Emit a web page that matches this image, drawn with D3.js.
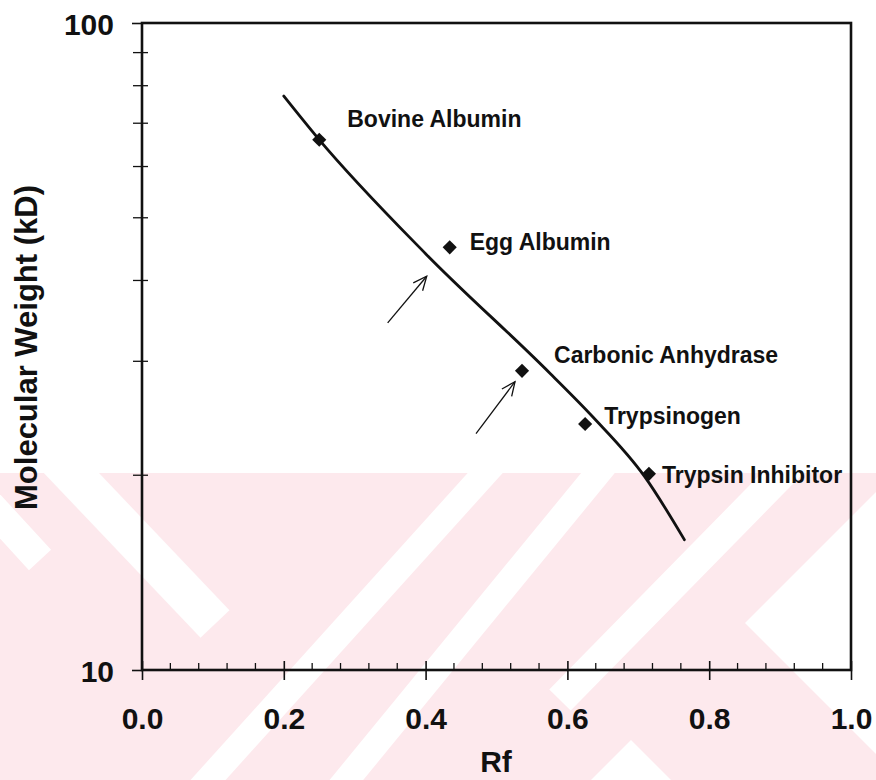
<!DOCTYPE html>
<html>
<head>
<meta charset="utf-8">
<script src="https://cdn.jsdelivr.net/npm/d3@7"></script>
<style>
  body { margin: 0; background: #ffffff; }
  svg { display: block; }
  text { font-family: "Liberation Sans", Arial, sans-serif; font-weight: bold; fill: #111; }
</style>
</head>
<body>
<svg id="chart" width="876" height="780"></svg>
<script>
// Marker proteins: relative mobility (Rf) and molecular weight (kD)
const proteins = ["Bovine Albumin", "Egg Albumin", "Carbonic Anhydrase", "Trypsinogen", "Trypsin Inhibitor"];
const rfValues = [0.25, 0.434, 0.536, 0.625, 0.715];
const mwValues = [66, 45, 29, 24, 20.1];

// Calibration curve through the markers
const curveRf = [0.20, 0.248, 0.400, 0.576, 0.636, 0.709, 0.765];
const curveMw = [77.1, 66.4, 44.0, 28.7, 24.6, 19.9, 15.9];

// Arrows marking the unknown bands
const arrowTailRf = [0.3465, 0.4711];
const arrowTailMw = [34.4, 23.2];
const arrowTipRf = [0.4016, 0.5261];
const arrowTipMw = [40.6, 27.9];

// Axis ticks
const xTicks = [0.0, 0.2, 0.4, 0.6, 0.8, 1.0];
const xMinorTicks = d3.range(0.04, 1.0, 0.04).filter(v => Math.abs(v / 0.2 - Math.round(v / 0.2)) > 1e-6);
const yTicks = [10, 100];
const yMinorTicks = [20, 30, 40, 50, 60, 70, 80, 90];

// Label placement relative to each marker (pixels)
const labelDx = [28, 20, 32, 19, 13];
const labelDy = [-13, 3, -8, 0, 9];

const svg = d3.select("#chart");
const W = 876, H = 780;
const plotLeft = 142, plotRight = 851, plotTop = 23, plotBottom = 670;

const x = d3.scaleLinear().domain([0, 1]).range([plotLeft, plotRight]);
const y = d3.scaleLog().domain([10, 100]).range([plotBottom, plotTop]);

// Background watermark band (light pink with white diagonal cut-outs)
const wmTop = 473;
const wm = svg.append("g").attr("class", "watermark");
const defs = svg.append("defs");
defs.append("clipPath").attr("id", "wmclip")
  .append("rect").attr("x", 0).attr("y", wmTop).attr("width", W).attr("height", H - wmTop);
wm.append("rect").attr("x", 0).attr("y", wmTop).attr("width", W).attr("height", H - wmTop).attr("fill", "#fde9ed");
const wmClip = wm.append("g").attr("clip-path", "url(#wmclip)");
const stripes = [
  { x1: 40, y1: 440, x2: 215, y2: 624, w: 40 },
  { x1: -70, y1: 440, x2: 40, y2: 560, w: 30 },
  { x1: 515, y1: 440, x2: 190, y2: 800, w: 26 },
  { x1: 625, y1: 440, x2: 330, y2: 800, w: 26 },
  { x1: 815, y1: 440, x2: 560, y2: 700, w: 30 }
];
wmClip.selectAll("line").data(stripes).join("line")
  .attr("x1", d => d.x1).attr("y1", d => d.y1)
  .attr("x2", d => d.x2).attr("y2", d => d.y2)
  .attr("stroke", "#ffffff").attr("stroke-width", d => d.w).attr("stroke-linecap", "butt");
const wedges = [
  [[745, 623], [900, 468], [900, 778]],
  [[631, 740], [590, 781], [672, 781]]
];
wmClip.selectAll("polygon").data(wedges).join("polygon")
  .attr("points", d => d.map(p => p.join(",")).join(" "))
  .attr("fill", "#ffffff");

// Plot frame
svg.append("rect")
  .attr("x", plotLeft).attr("y", plotTop).attr("width", plotRight - plotLeft).attr("height", plotBottom - plotTop)
  .attr("fill", "none").attr("stroke", "#111").attr("stroke-width", 2.6);

// Bottom axis
const xAxis = svg.append("g").attr("transform", `translate(0,${plotBottom})`)
  .call(d3.axisBottom(x).tickValues(xTicks).tickFormat(d3.format(".1f")).tickSize(10));
xAxis.select(".domain").remove();
xAxis.selectAll(".tick line").attr("y1", -9).attr("y2", 10).attr("stroke", "#111").attr("stroke-width", 1.6);
xAxis.selectAll(".tick text").attr("y", 59).attr("dy", 0)
  .style("font-size", "30px").style("font-family", "'Liberation Sans', Arial, sans-serif")
  .style("font-weight", "bold").attr("fill", "#111");

svg.append("g").selectAll("line").data(xMinorTicks).join("line")
  .attr("x1", d => x(d)).attr("x2", d => x(d))
  .attr("y1", plotBottom).attr("y2", plotBottom - 7)
  .attr("stroke", "#111").attr("stroke-width", 1.3);

// Left axis
const yAxis = svg.append("g").attr("transform", `translate(${plotLeft},0)`)
  .call(d3.axisLeft(y).tickValues(yTicks).tickFormat(d3.format("d")).tickSize(10));
yAxis.select(".domain").remove();
yAxis.selectAll(".tick line").attr("stroke", "#111").attr("stroke-width", 1.6);
yAxis.selectAll(".tick text").attr("x", -28).attr("dy", "0.38em")
  .style("font-size", "30px").style("font-family", "'Liberation Sans', Arial, sans-serif")
  .style("font-weight", "bold").attr("fill", "#111");

svg.append("g").selectAll("line").data(yMinorTicks).join("line")
  .attr("x1", plotLeft - 9).attr("x2", plotLeft + 6)
  .attr("y1", d => y(d)).attr("y2", d => y(d))
  .attr("stroke", "#111").attr("stroke-width", 1.3);

// Axis titles
svg.append("text")
  .attr("x", (plotLeft + plotRight) / 2 - 0.5).attr("y", 772)
  .attr("text-anchor", "middle").style("font-size", "30px")
  .text("Rf");
svg.append("text")
  .attr("transform", `translate(37,${(182 + 513) / 2}) rotate(-90)`)
  .attr("text-anchor", "middle").style("font-size", "31px")
  .text("Molecular Weight (kD)");

// Calibration curve
const curvePts = curveRf.map((r, i) => [x(r), y(curveMw[i])]);
svg.append("path")
  .attr("d", d3.line().curve(d3.curveMonotoneX)(curvePts))
  .attr("fill", "none").attr("stroke", "#111").attr("stroke-width", 2.8)
  .attr("stroke-linecap", "round");

// Markers
svg.append("g").selectAll("path").data(rfValues).join("path")
  .attr("d", d3.symbol().type(d3.symbolSquare).size(100))
  .attr("transform", (d, i) => `translate(${x(d)},${y(mwValues[i])}) rotate(45)`)
  .attr("fill", "#111");

// Marker labels
svg.append("g").selectAll("text").data(proteins).join("text")
  .attr("x", (d, i) => x(rfValues[i]) + labelDx[i])
  .attr("y", (d, i) => y(mwValues[i]) + labelDy[i])
  .style("font-size", "23px")
  .text(d => d);

// Arrows
const arrowG = svg.append("g").attr("stroke", "#111").attr("stroke-width", 1.3).attr("fill", "none");
arrowTailRf.forEach((r, i) => {
  const x0 = x(r), y0 = y(arrowTailMw[i]);
  const x1 = x(arrowTipRf[i]), y1 = y(arrowTipMw[i]);
  const ang = Math.atan2(y1 - y0, x1 - x0);
  const len = 15, spread = 0.42;
  arrowG.append("line").attr("x1", x0).attr("y1", y0).attr("x2", x1).attr("y2", y1);
  arrowG.append("path").attr("d",
    `M${x1 - len * Math.cos(ang - spread)},${y1 - len * Math.sin(ang - spread)}` +
    `L${x1},${y1}` +
    `L${x1 - len * Math.cos(ang + spread)},${y1 - len * Math.sin(ang + spread)}`);
});
</script>
</body>
</html>
